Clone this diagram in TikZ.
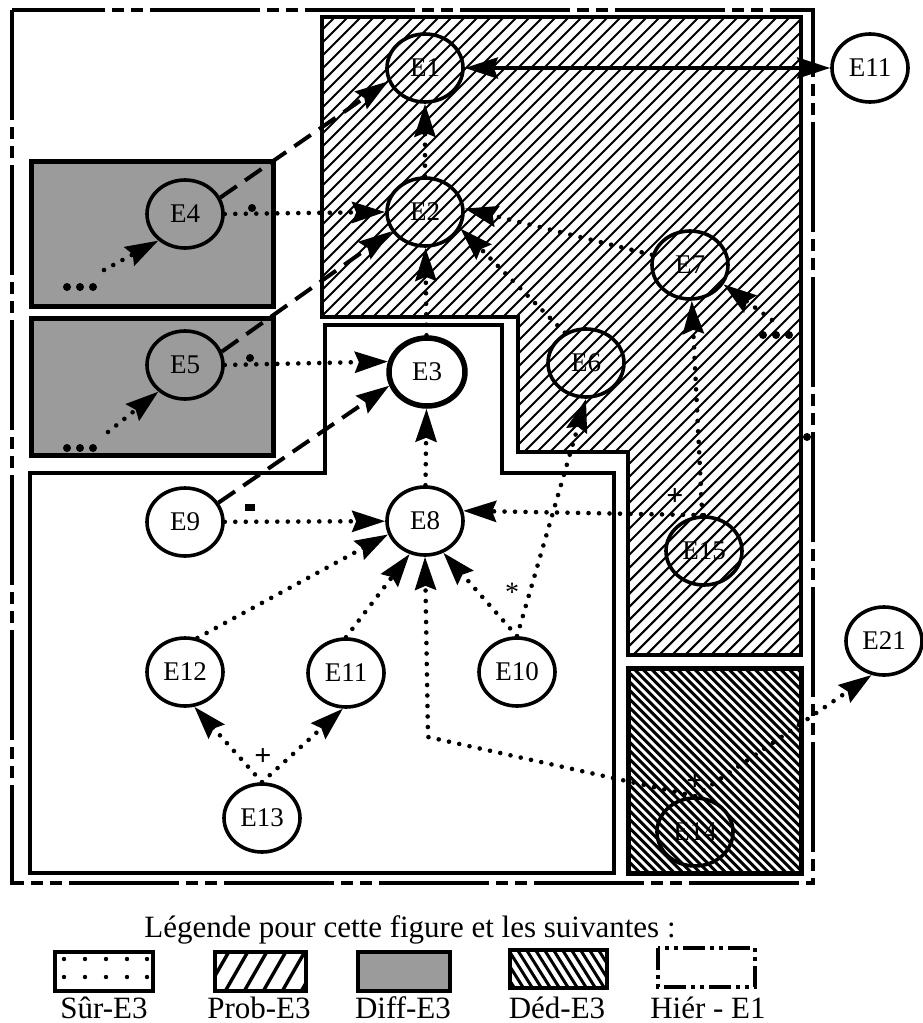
\documentclass[tikz,border=0pt]{standalone}
\usepackage{fontspec}
\setmainfont{Liberation Serif}
\usetikzlibrary{arrows.meta,shapes.geometric}
\definecolor{diffgray}{RGB}{155,155,155}
\begin{document}
\begin{tikzpicture}[x=1pt,y=-1pt,
  ent/.style={ellipse,draw,line width=3.6pt,minimum width=76pt,minimum height=68pt,inner sep=0pt,font=\fontsize{27}{27}\selectfont},
  dotl/.style={line width=4.6pt,dash pattern=on 0pt off 10.5pt,line cap=round},
  dashl/.style={line width=4pt,dash pattern=on 20pt off 10pt},
  tip/.style={-{Stealth[length=33pt,width=21pt,inset=4pt]}},
  region/.style={line width=4.5pt},
  hatchl/.style={line width=2.1pt},
  hier/.style={line width=3.6pt,dash pattern=on 110pt off 7pt on 12pt off 7pt on 12pt off 7pt},
  lab/.style={font=\fontsize{31}{31}\selectfont,anchor=base,inner sep=0pt},
  mk/.style={font=\fontsize{30}{30}\selectfont\bfseries,inner sep=0pt}
]
\fill[white] (0,0) rectangle (923,1023);
\useasboundingbox (0,0) rectangle (923,1023);

% Diff-E3 boxes
\filldraw[fill=diffgray,line width=5pt] (31,161) rectangle (273,306);
\filldraw[fill=diffgray,line width=5pt] (31,318) rectangle (273,455);

% Prob-E3 region
\begin{scope}
  \clip (322,17) -- (801,17) -- (801,655) -- (628,655) -- (628,452) -- (518,452) -- (518,317) -- (322,317) -- cycle;
  \foreach \c in {339,352,...,1469} \draw[hatchl] (\c,0) -- (\c-700,700);
\end{scope}
\draw[region] (322,17) -- (801,17) -- (801,655) -- (628,655) -- (628,452) -- (518,452) -- (518,317) -- (322,317) -- cycle;

% Sur-E3 region
\draw[region] (325,325) -- (502,325) -- (502,473) -- (614,473) -- (614,873) -- (30,873) -- (30,473) -- (325,473) -- cycle;

% Ded-E3 box
\begin{scope}
  \clip (628,668) rectangle (801,873);
  \foreach \c in {-250,-241.4,...,140} \draw[line width=3pt] (\c+600,600) -- (\c+900,900);
\end{scope}
\draw[line width=5pt] (628,668) rectangle (801,873);

% Hier-E1 outer border
\draw[hier] (12,10) rectangle (813,883);

% entities
\node[ent] (E1) at (425,68) {E1};
\node[ent] (E2) at (425,212) {E2};
\node[ent,line width=5.5pt] (E3) at (427,372) {E3};
\node[ent] (E4) at (185,214) {E4};
\node[ent] (E5) at (185,365) {E5};
\node[ent] (E6) at (586,363) {E6};
\node[ent] (E7) at (690,265) {E7};
\node[ent] (E8) at (425,521) {E8};
\node[ent] (E9) at (185,522) {E9};
\node[ent] (E10) at (517,672) {E10};
\node[ent] (E11b) at (346,673) {E11};
\node[ent] (E12) at (185,672) {E12};
\node[ent] (E13) at (262,818) {E13};
\node[ent] (E14) at (695,832) {E14};
\node[ent] (E15) at (704,551) {E15};
\node[ent] (E11a) at (870,68) {E11};
\node[ent] (E21) at (884,641) {E21};

% free ends
\coordinate (s4) at (104,270);
\coordinate (s5) at (108,432);
\coordinate (s7) at (772,320);
\coordinate (bend) at (428,737);
\foreach \x in {67,80,93} {\fill (\x,287) circle (4pt); \fill (\x,448) circle (4pt);}
\foreach \x in {763,776,789} \fill (\x,335) circle (4pt);

% connectors
\draw[line width=4pt,{Stealth[length=33pt,width=21pt,inset=4pt]}-{Stealth[length=33pt,width=21pt,inset=4pt]}] (E1) -- (E11a);
\draw[dotl,tip] (E2) -- (E1);
\draw[dashl,tip] (E4.25) -- (E1.200);
\draw[dotl,tip] (E4.east) -- (E2.west);
\draw[dashl,tip] (E5.20) -- (E2.210);
\draw[dotl,tip] (E5.east) -- (E3.165);
\draw[dotl,tip] (E3) -- (E2);
\draw[dotl,tip] (E8) -- (E3);
\draw[dashl,tip] (E9.30) -- (E3.200);
\draw[dotl,tip] (E7.165) -- (E2.5);
\draw[dotl,tip] (E6.125) -- (E2.335);
\draw[dotl,tip] (E15) -- (E7);
\draw[dotl,tip] (E15.north) -- (E8.15);
\draw[dotl,tip] (E9) -- (E8);
\draw[dotl,tip] (E12.70) -- (E8.200);
\draw[dotl,tip] (E11b.north) -- (E8.245);
\draw[dotl,tip] (E10.north) -- (E8.300);
\draw[dotl,tip] (E10.north) -- (E6.south);
\draw[dotl,tip] (E14.north) -- (bend) -- (E8.south);
\draw[dotl,tip] (E14.north) -- (E21.250);
\draw[dotl,tip] (E13.north) -- (E12.285);
\draw[dotl,tip] (E13.north) -- (E11b.265);
\draw[dotl,tip] (s4) -- (E4.225);
\draw[dotl,tip] (s5) -- (E5.225);
\draw[dotl,tip] (s7) -- (E7.330);

% small marks and labels
\node[mk] (p13) at (263,757) {+};
\node[mk] (p15) at (675,497) {+};
\node[mk] (p14) at (695,782) {+};
\node[font=\fontsize{28}{28}\selectfont,inner sep=0pt] (st) at (512,592) {*};
\fill (252,208) circle (4pt);
\fill (250,358) circle (4pt);
\fill (807,437) circle (4pt);
\fill (245,504) rectangle (255,511);

% legend
\node[lab] (leg) at (410,937) {Légende pour cette figure et les suivantes :};
\draw[line width=3.6pt] (55,952) rectangle (153,991);
\foreach \x in {64,85,106,127,147} {\fill (\x,959) circle (2.2pt); \fill (\x,977) circle (2.2pt);}
\begin{scope}
  \clip (215,952) rectangle (306,991);
  \foreach \c in {185,204,...,320} \draw[line width=3.4pt] (\c,995) -- (\c+27,948);
\end{scope}
\draw[line width=3.6pt] (215,952) rectangle (306,991);
\filldraw[fill=diffgray,line width=3.6pt] (358,952) rectangle (450,991);
\begin{scope}
  \clip (510,950) rectangle (607,988);
  \foreach \c in {470,479,...,610} \draw[line width=3pt] (\c,946) -- (\c+29,992);
\end{scope}
\draw[line width=3.6pt] (510,950) rectangle (607,988);
\draw[line width=3.6pt,dash pattern=on 22pt off 5pt on 4pt off 5pt on 4pt off 5pt] (658,948) rectangle (755,987);
\node[lab] (l1) at (104,1018) {Sûr-E3};
\node[lab] (l2) at (259,1018) {Prob-E3};
\node[lab] (l3) at (403,1018) {Diff-E3};
\node[lab] (l4) at (557,1018) {Déd-E3};
\node[lab] (l5) at (708,1018) {Hiér - E1};
\end{tikzpicture}
\end{document}
